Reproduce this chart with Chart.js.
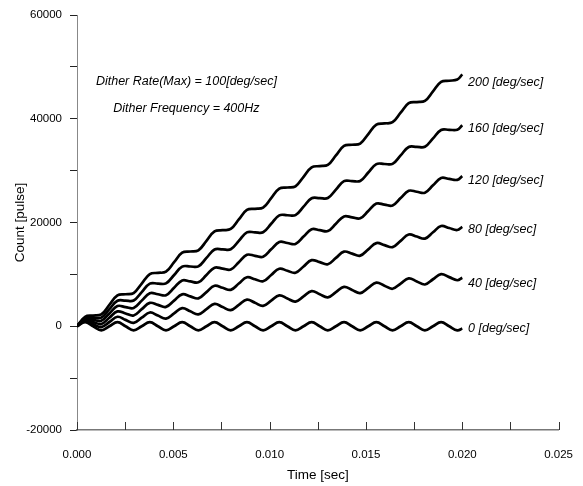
<!DOCTYPE html>
<html>
<head>
<meta charset="utf-8">
<script src="https://cdn.jsdelivr.net/npm/chart.js@4.4.0/dist/chart.umd.min.js"></script>
<style>
  html, body { margin: 0; padding: 0; background: #fff; }
</style>
</head>
<body>
<canvas id="myChart" width="583" height="486"></canvas>
<script>
// time samples [sec]
const times = [0, 0.00042, 0.00084, 0.00126, 0.00168, 0.0021, 0.00252, 0.00294, 0.00336, 0.00378,
  0.0042, 0.00462, 0.00504, 0.00546, 0.00588, 0.0063, 0.00672, 0.00714, 0.00756, 0.00798,
  0.0084, 0.00882, 0.00924, 0.00966, 0.01008, 0.0105, 0.01092, 0.01134, 0.01176, 0.01218,
  0.0126, 0.01302, 0.01344, 0.01386, 0.01428, 0.0147, 0.01512, 0.01554, 0.01596, 0.01638,
  0.0168, 0.01722, 0.01764, 0.01806, 0.01848, 0.0189, 0.01932, 0.01974, 0.02];

// count [pulse] for each input rate
const count0 = [0, 800, 0, -800, 0, 800, 0, -800, 0, 800, 0, -800, 0, 800, 0, -800, 0, 800, 0, -800,
  0, 800, 0, -800, 0, 800, 0, -800, 0, 800, 0, -800, 0, 800, 0, -800, 0, 800, 0, -800,
  0, 800, 0, -800, 0, 800, 0, -800, -450];
const count40 = [0, 1010, 410, -180, 820, 1830, 1230, 640, 1650, 2650, 2060, 1460, 2470, 3480, 2880, 2290,
  3290, 4300, 3700, 3110, 4120, 5120, 4530, 3930, 4940, 5950, 5350, 4760, 5760, 6770, 6170, 5580,
  6590, 7590, 7000, 6400, 7410, 8410, 7820, 7230, 8230, 9240, 8640, 8050, 9060, 10060, 9470, 8870, 9350];
const count80 = [0, 1210, 820, 430, 1650, 2860, 2470, 2080, 3290, 4500, 4120, 3730, 4940, 6150, 5760, 5370,
  6590, 7800, 7410, 7020, 8230, 9440, 9060, 8670, 9880, 11090, 10700, 10310, 11520, 12740, 12350, 11960,
  13170, 14380, 13990, 13610, 14820, 16030, 15640, 15250, 16460, 17680, 17290, 16900, 18110, 19320, 18930, 18550, 19150];
const count120 = [0, 1420, 1230, 1050, 2470, 3890, 3700, 3520, 4940, 6360, 6170, 5990, 7410, 8830, 8640, 8460,
  9880, 11300, 11110, 10930, 12350, 13770, 13580, 13400, 14820, 16240, 16050, 15870, 17290, 18700, 18520, 18340,
  19760, 21170, 20990, 20810, 22230, 23640, 23460, 23280, 24700, 26110, 25930, 25750, 27170, 28580, 28400, 28220, 28950];
const count160 = [0, 1620, 1650, 1670, 3290, 4920, 4940, 4960, 6590, 8210, 8230, 8260, 9880, 11500, 11520, 11550,
  13170, 14790, 14820, 14840, 16460, 18090, 18110, 18130, 19760, 21380, 21400, 21430, 23050, 24670, 24700, 24720,
  26340, 27970, 27990, 28010, 29640, 31260, 31280, 31300, 32930, 34550, 34570, 34600, 36220, 37840, 37870, 37890, 38750];
const count200 = [0, 1830, 2060, 2290, 4120, 5950, 6170, 6400, 8230, 10060, 10290, 10520, 12350, 14180, 14410, 14640,
  16460, 18290, 18520, 18750, 20580, 22410, 22640, 22870, 24700, 26530, 26750, 26980, 28810, 30640, 30870, 31100,
  32930, 34760, 34990, 35220, 37040, 38870, 39100, 39330, 41160, 42990, 43220, 43450, 45280, 47110, 47330, 47560, 48550];

const seriesLabels = ['0 [deg/sec]', '40 [deg/sec]', '80 [deg/sec]', '120 [deg/sec]', '160 [deg/sec]', '200 [deg/sec]'];
const labelCounts = [-400, 8300, 18700, 28000, 38200, 46900];   // where the end labels sit
const noteLines = ['Dither Rate(Max) = 100[deg/sec]', 'Dither Frequency = 400Hz'];
const noteCounts = [47200, 42000];

const allCounts = [count0, count40, count80, count120, count160, count200];

const datasets = allCounts.map((arr, k) => ({
  label: seriesLabels[k],
  data: times.map((t, i) => ({x: t, y: arr[i]})),
  borderColor: '#000',
  borderWidth: 2.7,
  pointRadius: 0,
  tension: 0.4,
  fill: false
}));

// ticks on the time axis point up into the plot, labels and notes drawn as text
const extras = {
  id: 'extras',
  afterDraw(chart) {
    const ctx = chart.ctx;
    const xs = chart.scales.x, ys = chart.scales.y;
    const bottom = chart.chartArea.bottom;
    ctx.save();
    ctx.strokeStyle = '#333';
    ctx.lineWidth = 1;
    xs.ticks.forEach(t => {
      const px = Math.round(xs.getPixelForValue(t.value)) + 0.5;
      ctx.beginPath();
      ctx.moveTo(px, bottom);
      ctx.lineTo(px, bottom - 8);
      ctx.stroke();
    });

    ctx.fillStyle = '#000';
    ctx.font = 'italic 12.5px "Liberation Sans", Arial, sans-serif';
    ctx.textBaseline = 'middle';
    ctx.textAlign = 'left';
    seriesLabels.forEach((s, k) => {
      ctx.fillText(s, xs.getPixelForValue(0.0203), ys.getPixelForValue(labelCounts[k]));
    });
    ctx.textAlign = 'center';
    noteLines.forEach((s, k) => {
      ctx.fillText(s, xs.getPixelForValue(0.00568), ys.getPixelForValue(noteCounts[k]));
    });
    ctx.restore();
  }
};

const ctx = document.getElementById('myChart').getContext('2d');
const chart = new Chart(ctx, {
  type: 'line',
  data: { datasets: datasets },
  options: {
    responsive: false,
    animation: false,
    devicePixelRatio: 1,
    layout: { padding: { left: 0, right: 16, top: 15, bottom: 0 } },
    plugins: { legend: { display: false }, tooltip: { enabled: false } },
    scales: {
      x: {
        type: 'linear',
        min: 0,
        max: 0.025,
        afterFit: s => { s.height = 56; },
        grid: { display: false },
        border: { display: true, color: '#777', width: 1.5 },
        ticks: {
          stepSize: 0.0025,
          autoSkip: false,
          maxRotation: 0,
          padding: 10,
          color: '#000',
          font: { family: '"Liberation Sans", Arial, sans-serif', size: 11.5 },
          callback: v => Math.abs(v / 0.005 - Math.round(v / 0.005)) < 1e-6 ? v.toFixed(3) : ''
        },
        title: {
          display: true,
          text: 'Time [sec]',
          color: '#000',
          padding: 3,
          font: { family: '"Liberation Sans", Arial, sans-serif', size: 13.5 }
        }
      },
      y: {
        min: -20000,
        max: 60000,
        afterFit: s => { s.width = 77; },
        grid: { drawOnChartArea: false, drawTicks: true, tickLength: 7, color: '#222' },
        border: { display: true, color: '#888', width: 1, dash: [7, 3] },
        ticks: {
          stepSize: 10000,
          padding: 8,
          color: '#000',
          font: { family: '"Liberation Sans", Arial, sans-serif', size: 11.5 },
          callback: v => v % 20000 === 0 ? String(v) : ''
        },
        title: {
          display: true,
          text: 'Count [pulse]',
          color: '#000',
          padding: 12,
          font: { family: '"Liberation Sans", Arial, sans-serif', size: 13.5 }
        }
      }
    }
  },
  plugins: [extras]
});
</script>
</body>
</html>
